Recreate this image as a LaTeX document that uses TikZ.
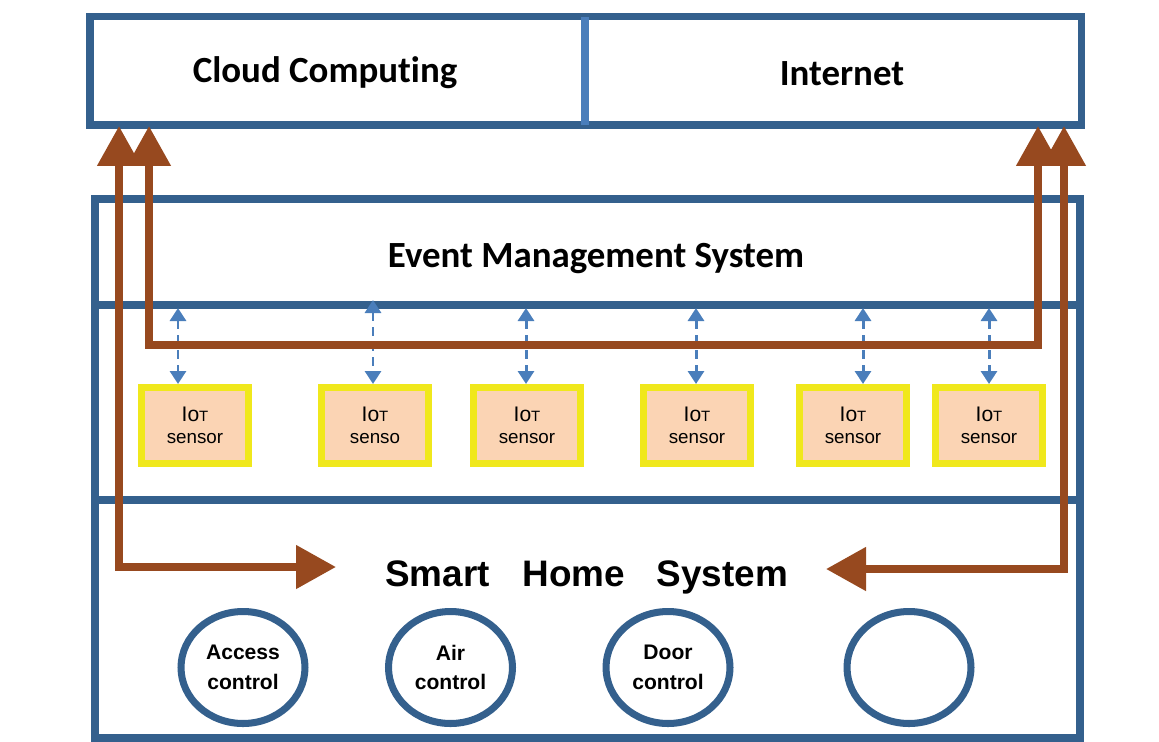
\documentclass[tikz,border=0pt]{standalone}
\usepackage{fontspec}
\setmainfont{Liberation Sans}
\newfontfamily\calibri[Ligatures=NoCommon]{Carlito}
\usetikzlibrary{shapes}
\usetikzlibrary{arrows.meta}
\definecolor{frame}{HTML}{34608D}
\definecolor{split}{HTML}{4A7EBB}
\definecolor{link}{HTML}{97491F}
\definecolor{rim}{HTML}{F0E81C}
\definecolor{peach}{HTML}{FBD4B4}
\definecolor{probe}{HTML}{4A7EBB}

\begin{document}
\begin{tikzpicture}[x=0.02cm,y=-0.02cm,
	wall/.style={draw=frame,line width=4.5pt},
	bus/.style={draw=link,line width=4.5pt,{Triangle[width=0.84cm,length=0.8cm]}-{Triangle[width=0.84cm,length=0.8cm]}},
	ping/.style={draw=probe,line width=1.7pt,dash pattern=on 5pt off 3.5pt,{Triangle[width=0.32cm,length=0.26cm]}-{Triangle[width=0.32cm,length=0.26cm]}},
	sensor/.style={draw=rim,fill=peach,line width=4pt,minimum width=2.14cm,minimum height=1.52cm,inner sep=0pt,align=center,font=\fontsize{10.7}{12.5}\selectfont},
	device/.style={ellipse,draw=frame,line width=4pt,minimum width=2.48cm,minimum height=2.24cm,inner sep=0pt,align=center,font=\bfseries\fontsize{12}{17}\selectfont},
	title/.style={anchor=base,font=\calibri\bfseries\fontsize{21}{25}\selectfont}]
\useasboundingbox (0,0) rectangle (1159,741);
\draw [line width=4pt,draw=frame] (90,16.5) rectangle (1081,125);
\draw [line width=4pt,draw=split] (585,16.5) -- (585,125);
\draw [wall] (95,199) rectangle (1080,738);
\draw [wall] (95,305) -- (1080,305);
\draw [wall] (95,500) -- (1080,500);
\node [title] (cloud) at (325,82) {Cloud Computing};
\node [title] (inet) at (842,85) {Internet};
\node [title] (ems) at (596,267) {Event Management System};
\node [anchor=base,font=\bfseries\fontsize{21}{25}\selectfont] (shs) at (586.5,586) {Smart\hspace{13pt} Home\hspace{12pt} System};
\foreach \i/\x/\a/\b/\t in {1/195/178/308/sensor, 2/375/373/300/senso, 3/527/526/308/sensor, 4/697/696/308/sensor, 5/853/863/308/sensor, 6/989/989/308/sensor}
{
	\node [sensor] (s\i) at (\x,425.5) {{\fontsize{12}{12}\selectfont Io{\fontsize{8.5}{8.5}\selectfont T}}\\ \t};
	\coordinate (p\i) at (\a,\b);
	\draw [ping] (p\i) -- (p\i |- s\i.north);
}
\coordinate (c1) at (119,126);
\coordinate (c2) at (149,126);
\coordinate (n1) at (1038,126);
\coordinate (n2) at (1064,126);
\coordinate (h1) at (336,567);
\coordinate (h2) at (826,569);
\coordinate (bend) at (600,345);
\draw [bus] (c1) |- (h1);
\draw [bus] (c2) |- (bend) -| (n1);
\draw [bus] (n2) |- (h2);
\foreach \i/\x/\t in {1/243/{Access\\control}, 2/450.5/{Air\\control}, 3/668/{Door\\control}, 4/909/{}}
	\node [device] (d\i) at (\x,667.5) {\t};
\end{tikzpicture}
\end{document}
